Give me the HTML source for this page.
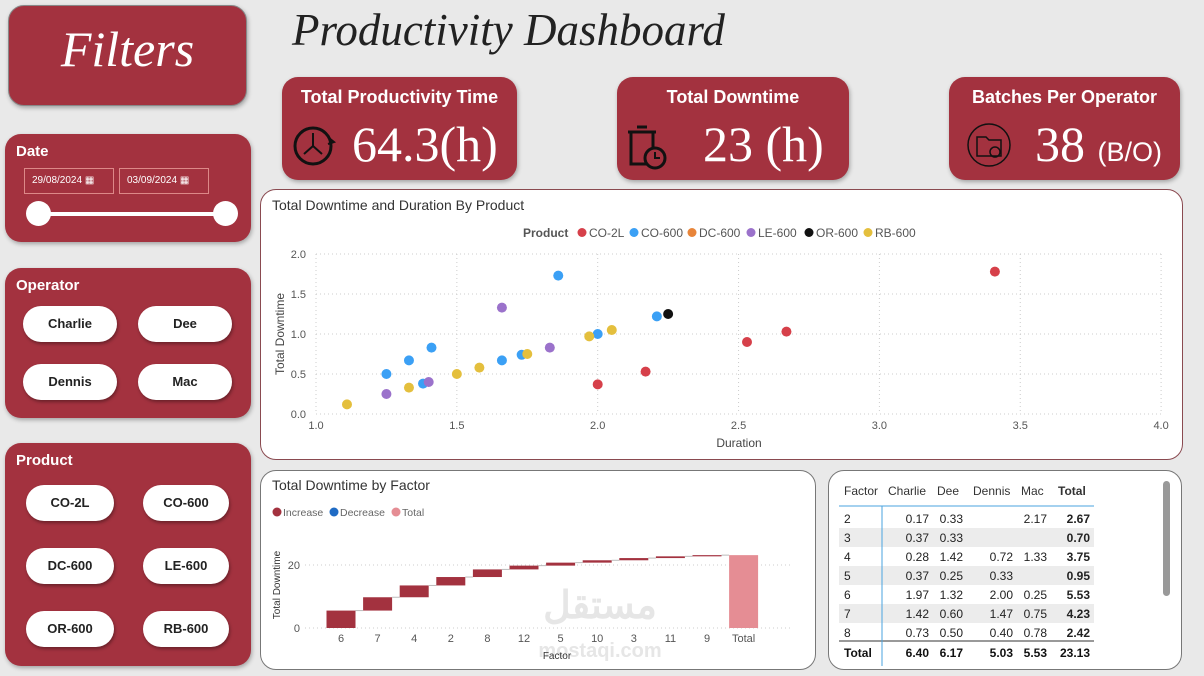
<!DOCTYPE html>
<html><head><meta charset="utf-8"><style>
*{box-sizing:border-box;margin:0;padding:0}
body{width:1204px;height:676px;background:#e9e9e9;font-family:"Liberation Sans",sans-serif;position:relative;overflow:hidden}
.abs{position:absolute}
.red{background:#a3323f;border-radius:16px;box-shadow:1px 2px 4px rgba(0,0,0,.3)}
.ptitle{color:#fff;font-weight:bold;font-size:15px;position:absolute;left:11px;top:9px}
.pill{position:absolute;width:94px;height:36px;background:#fff;border-radius:18px;font-size:13px;font-weight:bold;color:#222;text-align:center;line-height:36px;box-shadow:1px 2px 3px rgba(0,0,0,.35)}
.kpi-t{position:absolute;top:10px;width:100%;text-align:center;color:#fff;font-weight:bold;font-size:18px}
.kpi-v{position:absolute;color:#fff;font-family:"Liberation Serif",serif}
.card{background:#fff;border:1px solid #777;border-radius:16px}
</style></head><body>
<div class="abs red" style="left:8px;top:5px;width:239px;height:101px;border:1px solid #888">
 <div style="color:#fff;font-family:'Liberation Serif',serif;font-style:italic;font-size:50px;text-align:center;margin-top:14px">Filters</div></div>
<div class="abs" style="left:292px;top:4px;font-family:'Liberation Serif',serif;font-style:italic;font-size:45px;color:#222">Productivity Dashboard</div>

<div class="abs red" style="left:5px;top:134px;width:246px;height:108px">
 <div class="ptitle">Date</div>
 <div class="abs" style="left:19px;top:34px;width:90px;height:26px;border:1px solid #d88;color:#fff;font-size:10px;line-height:24px;padding-left:7px">29/08/2024 ▦</div>
 <div class="abs" style="left:114px;top:34px;width:90px;height:26px;border:1px solid #d88;color:#fff;font-size:10px;line-height:24px;padding-left:7px">03/09/2024 ▦</div>
 <div class="abs" style="left:33px;top:78px;width:188px;height:4px;background:#fff"></div>
 <div class="abs" style="left:21px;top:67px;width:25px;height:25px;border-radius:50%;background:#fff"></div>
 <div class="abs" style="left:208px;top:67px;width:25px;height:25px;border-radius:50%;background:#fff"></div>
</div>

<div class="abs red" style="left:5px;top:268px;width:246px;height:150px">
 <div class="ptitle">Operator</div>
 <div class="pill" style="left:18px;top:38px">Charlie</div>
 <div class="pill" style="left:133px;top:38px">Dee</div>
 <div class="pill" style="left:18px;top:96px">Dennis</div>
 <div class="pill" style="left:133px;top:96px">Mac</div>
</div>

<div class="abs red" style="left:5px;top:443px;width:246px;height:223px">
 <div class="ptitle">Product</div>
 <div class="pill" style="left:21px;top:42px;width:88px">CO-2L</div>
 <div class="pill" style="left:138px;top:42px;width:86px">CO-600</div>
 <div class="pill" style="left:21px;top:105px;width:88px">DC-600</div>
 <div class="pill" style="left:138px;top:105px;width:86px">LE-600</div>
 <div class="pill" style="left:21px;top:168px;width:88px">OR-600</div>
 <div class="pill" style="left:138px;top:168px;width:86px">RB-600</div>
</div>

<div class="abs red" style="left:282px;top:77px;width:235px;height:103px">
 <div class="kpi-t">Total Productivity Time</div>
 <svg class="abs" style="left:9px;top:47px" width="48" height="44" viewBox="0 0 48 44"><circle cx="22" cy="22" r="18" fill="none" stroke="#111" stroke-width="3"/><path d="M22 22V9M22 22L13 30M22 22L31 30" stroke="#111" stroke-width="2"/><path d="M38 14l5 4-6 2" fill="none" stroke="#111" stroke-width="2"/></svg>
 <div class="kpi-v" style="left:70px;top:38px;font-size:50px">64.3(h)</div>
</div>
<div class="abs red" style="left:617px;top:77px;width:232px;height:103px">
 <div class="kpi-t">Total Downtime</div>
 <svg class="abs" style="left:8px;top:47px" width="48" height="48" viewBox="0 0 48 48"><rect x="6" y="8" width="22" height="32" fill="none" stroke="#111" stroke-width="3"/><path d="M3 8h28M12 3h10" stroke="#111" stroke-width="3"/><circle cx="30" cy="34" r="10" fill="#a3323f" stroke="#111" stroke-width="3"/><path d="M30 28v6h5" stroke="#111" stroke-width="2" fill="none"/></svg>
 <div class="kpi-v" style="left:86px;top:38px;font-size:50px">23 (h)</div>
</div>
<div class="abs red" style="left:949px;top:77px;width:231px;height:103px">
 <div class="kpi-t">Batches Per Operator</div>
 <svg class="abs" style="left:12px;top:45px" width="56" height="46" viewBox="0 0 56 46"><circle cx="28" cy="23" r="21" fill="none" stroke="#111" stroke-width="1.5"/><path d="M16 15h9l3 3h12v16H16z" fill="none" stroke="#111" stroke-width="1.5"/><circle cx="34" cy="30" r="5" fill="none" stroke="#111" stroke-width="1.5"/></svg>
 <div class="kpi-v" style="left:86px;top:38px;font-size:50px">38 <span style="font-family:'Liberation Sans',sans-serif;font-size:27px">(B/O)</span></div>
</div>

<div class="abs card" style="left:260px;top:189px;width:923px;height:271px;border-color:#8a4a50"></div>
<svg class="abs" style="left:0;top:0" width="1204" height="676" id="scatter" font-family="Liberation Sans, sans-serif"></svg>

<div class="abs card" style="left:260px;top:470px;width:556px;height:200px"></div>
<svg class="abs" style="left:0;top:0" width="1204" height="676" id="wf" font-family="Liberation Sans, sans-serif"></svg>

<div class="abs card" style="left:828px;top:470px;width:354px;height:200px;overflow:hidden">
 <div class="abs" style="left:334px;top:10px;width:7px;height:115px;background:#999;border-radius:4px"></div>
 <svg class="abs" style="left:0;top:0" width="354" height="200" id="tbl" font-family="Liberation Sans, sans-serif" font-size="12"></svg>
</div>

<script>
const NS='http://www.w3.org/2000/svg';
function mk(p,t,a,txt){const e=document.createElementNS(NS,t);for(const k in a)e.setAttribute(k,a[k]);if(txt!=null)e.textContent=txt;p.appendChild(e);return e;}

// scatter data
const products=['CO-2L','CO-600','DC-600','LE-600','OR-600','RB-600'];
const productColors=['#d6404a','#3ba0f5','#e8853a','#9b72cb','#111111','#e4bf3d'];
const pointProduct=[0,0,0,0,0,1,1,1,1,1,1,1,1,1,3,3,3,3,4,5,5,5,5,5,5,5];
const pointDuration=[3.41,2.67,2.53,2.0,2.17,1.86,1.25,1.33,1.41,1.38,1.66,1.73,2.0,2.21,1.66,1.25,1.4,1.83,2.25,1.11,1.33,1.5,1.58,1.75,1.97,2.05];
const pointDowntime=[1.78,1.03,0.9,0.37,0.53,1.73,0.5,0.67,0.83,0.38,0.67,0.74,1.0,1.22,1.33,0.25,0.4,0.83,1.25,0.12,0.33,0.5,0.58,0.75,0.97,1.05];
const xTicks=[1.0,1.5,2.0,2.5,3.0,3.5,4.0];
const yTicks=[0.0,0.5,1.0,1.5,2.0];

const sx=v=>316+(v-1)*281.7, sy=v=>414-v*80;
const S=document.getElementById('scatter');
mk(S,'text',{x:272,y:210,'font-size':14,fill:'#333'},'Total Downtime and Duration By Product');
let lx=523;
mk(S,'text',{x:lx,y:237,'font-size':12,'font-weight':'bold',fill:'#555'},'Product');
lx=582;
products.forEach((p,i)=>{const c=mk(S,'circle',{cx:lx,cy:232.5,r:4.5,fill:productColors[i]});


mk(S,'text',{x:lx+7,y:237,'font-size':12,fill:'#555'},p);lx+=[52,58,59,58,59,0][i];});
xTicks.forEach(t=>{mk(S,'line',{x1:sx(t),x2:sx(t),y1:254,y2:414,stroke:'#ccc','stroke-dasharray':'1 3'});
mk(S,'text',{x:sx(t),y:429,'font-size':11,fill:'#555','text-anchor':'middle'},t.toFixed(1));});
yTicks.forEach(t=>{mk(S,'line',{x1:316,x2:1162,y1:sy(t),y2:sy(t),stroke:'#ccc','stroke-dasharray':'1 3'});
mk(S,'text',{x:306,y:sy(t)+4,'font-size':11,fill:'#555','text-anchor':'end'},t.toFixed(1));});
mk(S,'text',{x:739,y:447,'font-size':12,fill:'#444','text-anchor':'middle'},'Duration');
mk(S,'text',{x:284,y:334,'font-size':12,fill:'#444','text-anchor':'middle',transform:'rotate(-90 284 334)'},'Total Downtime');
pointDuration.forEach((d,i)=>{const c=mk(S,'circle',{cx:sx(d),cy:sy(pointDowntime[i]),r:5,fill:productColors[pointProduct[i]]});

});

// waterfall data
const factors=['6','7','4','2','8','12','5','10','3','11','9'];
const factorValues=[5.53,4.23,3.75,2.67,2.42,1.2,0.95,0.75,0.70,0.55,0.38];
const wfTicks=[0,20];
const W=document.getElementById('wf');
const wy=v=>628-v*3.15, wx=i=>341+i*36.6;
mk(W,'text',{x:272,y:490,'font-size':14,fill:'#333'},'Total Downtime by Factor');
[['Increase','#a3323f',277],['Decrease','#1f6bc4',334],['Total','#e58d94',396]].forEach(l=>{
 mk(W,'circle',{cx:l[2],cy:512,r:4.5,fill:l[1]});mk(W,'text',{x:l[2]+6,y:516,'font-size':10.5,fill:'#666'},l[0]);});
wfTicks.forEach(t=>{mk(W,'line',{x1:305,x2:790,y1:wy(t),y2:wy(t),stroke:'#ccc','stroke-dasharray':'1 3'});
mk(W,'text',{x:300,y:wy(t)+4,'font-size':11,fill:'#555','text-anchor':'end'},t);});
mk(W,'text',{x:280,y:585,'font-size':10,fill:'#333','text-anchor':'middle',transform:'rotate(-90 280 585)'},'Total Downtime');
mk(W,'text',{x:600,y:618,'font-size':38,'font-weight':'bold',fill:'#e6e6e6','text-anchor':'middle'},'مستقل');
mk(W,'text',{x:600,y:657,'font-size':20,'font-weight':'bold',fill:'#e6e6e6','text-anchor':'middle'},'mostaqi.com');
let cum=0;
factors.forEach((f,i)=>{const b=mk(W,'rect',{x:wx(i)-14.5,y:wy(cum+factorValues[i]),width:29,height:factorValues[i]*3.15,fill:'#a3323f'});


cum+=factorValues[i];
mk(W,'line',{x1:wx(i)+14.5,x2:wx(i+1)-14.5,y1:wy(cum),y2:wy(cum),stroke:'#bbb'});
mk(W,'text',{x:wx(i),y:642,'font-size':11,fill:'#555','text-anchor':'middle'},f);});
const tb=mk(W,'rect',{x:wx(11)-14.5,y:wy(cum),width:29,height:cum*3.15,fill:'#e58d94'});


mk(W,'text',{x:wx(11),y:642,'font-size':11,fill:'#555','text-anchor':'middle'},'Total');
mk(W,'text',{x:557,y:659,'font-size':10,fill:'#333','text-anchor':'middle'},'Factor');

// table
const rowFactor=['2','3','4','5','6','7','8'];
const charlie=['0.17','0.37','0.28','0.37','1.97','1.42','0.73'];
const dee=['0.33','0.33','1.42','0.25','1.32','0.60','0.50'];
const dennis=['','','0.72','0.33','2.00','1.47','0.40'];
const mac=['2.17','','1.33','','0.25','0.75','0.78'];
const totals=['2.67','0.70','3.75','0.95','5.53','4.23','2.42'];
const T=document.getElementById('tbl');
const cx=[[15,'start'],[100,'end'],[134,'end'],[184,'end'],[218,'end'],[261,'end']];
const hx=[15,59,108,144,192,229];
['Factor','Charlie','Dee','Dennis','Mac','Total'].forEach((h,i)=>mk(T,'text',{x:hx[i],y:24,fill:'#333','font-weight':i==5?'bold':'normal'},h));
mk(T,'line',{x1:10,x2:265,y1:35,y2:35,stroke:'#4aa3df'});
rowFactor.forEach((f,r)=>{const y=38+r*19;
 if(r%2==1)mk(T,'rect',{x:10,y:y,width:255,height:19,fill:'#ececec'});
 const row=[f,charlie[r],dee[r],dennis[r],mac[r],totals[r]];
 row.forEach((v,i)=>mk(T,'text',{x:cx[i][0],y:y+14,'text-anchor':cx[i][1],fill:'#222','font-weight':i==5?'bold':'normal'},v));});
mk(T,'line',{x1:10,x2:265,y1:170,y2:170,stroke:'#333'});
['Total','6.40','6.17','5.03','5.53','23.13'].forEach((v,i)=>mk(T,'text',{x:cx[i][0],y:186,'text-anchor':cx[i][1],fill:'#111','font-weight':'bold'},v));
mk(T,'line',{x1:53,x2:53,y1:35,y2:195,stroke:'#4aa3df'});
</script>
</body></html>
